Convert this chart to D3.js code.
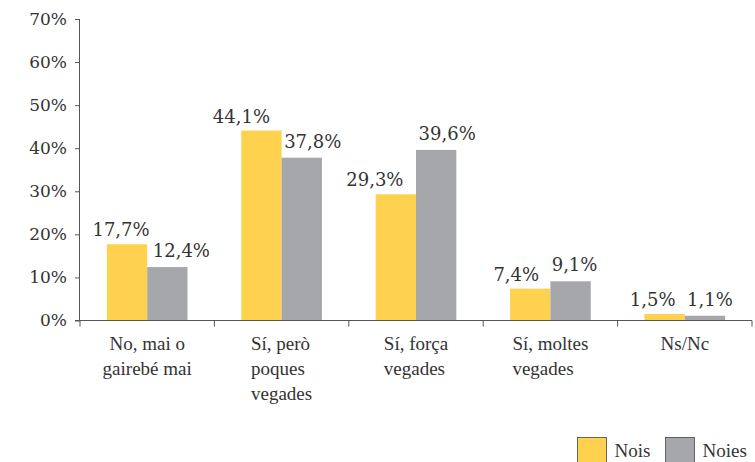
<!DOCTYPE html>
<html>
<head>
<meta charset="utf-8">
<script src="https://cdn.jsdelivr.net/npm/d3@7"></script>
<style>
  body { margin: 0; background: #fff; }
  svg { display: block; }
</style>
</head>
<body>
<svg id="chart" width="755" height="462"></svg>
<script>
const categories = [
  ["No, mai o", "gairebé mai"],
  ["Sí, però", "poques", "vegades"],
  ["Sí, força", "vegades"],
  ["Sí, moltes", "vegades"],
  ["Ns/Nc"],
];
const seriesNames = ["Nois", "Noies"];
const nois = [17.7, 44.1, 29.3, 7.4, 1.5];
const noies = [12.4, 37.8, 39.6, 9.1, 1.1];
const yTicks = [0, 10, 20, 30, 40, 50, 60, 70];

// hand placed label nudges, as in the original
const labelNudge = [
  [-6, 14],
  [-20, 11],
  [-21, 11],
  [-14, 4],
  [-12, 5],
];

const COLORS = ["#FED14F", "#A6A7AB"];
const TEXT = "#333";
const AXIS = "#555";
const NUM_FONT = "'DejaVu Serif', 'Liberation Serif', serif";
const LBL_FONT = "'Liberation Serif', 'DejaVu Serif', serif";

const svg = d3.select("#chart");
const plotLeft = 80, plotRight = 752, plotTop = 19, plotBottom = 320.5;

const x0 = d3.scaleBand()
  .domain(d3.range(categories.length))
  .range([plotLeft, plotRight])
  .paddingInner(0.4)
  .paddingOuter(0.2);
const x1 = d3.scaleBand().domain([0, 1]).range([0, x0.bandwidth()]);
const y = d3.scaleLinear().domain([0, 70]).range([plotBottom, plotTop]);

const fmt = (v) => v.toFixed(1).replace(".", ",") + "%";

// y axis
const yAxis = svg.append("g")
  .attr("transform", `translate(${plotLeft},0)`)
  .call(d3.axisLeft(y).tickValues(yTicks).tickSize(5).tickPadding(8).tickFormat((d) => d + "%"));
yAxis.select(".domain").attr("stroke", AXIS).attr("d", `M-0.5,${plotBottom}V${plotTop}`);
yAxis.selectAll(".tick line").attr("stroke", AXIS);
yAxis.selectAll(".tick text")
  .attr("fill", TEXT)
  .style("font-family", NUM_FONT)
  .style("font-size", "17px");

// bars
const groups = svg.append("g")
  .selectAll("g")
  .data(categories.map((c, i) => [nois[i], noies[i]]))
  .join("g")
  .attr("transform", (d, i) => `translate(${x0(i)},0)`);

groups.selectAll("rect")
  .data((d) => d)
  .join("rect")
  .attr("x", (d, j) => x1(j))
  .attr("y", (d) => y(d))
  .attr("width", x1.bandwidth())
  .attr("height", (d) => y(0) - y(d))
  .attr("fill", (d, j) => COLORS[j]);

groups.selectAll("text")
  .data((d, i) => d.map((v, j) => ({ v, j, i })))
  .join("text")
  .attr("x", (d) => x1(d.j) + x1.bandwidth() / 2 + labelNudge[d.i][d.j])
  .attr("y", (d) => y(d.v) - (d.j === 0 ? 8 : 10))
  .attr("text-anchor", "middle")
  .attr("fill", TEXT)
  .style("font-family", NUM_FONT)
  .style("font-size", "18px")
  .text((d) => fmt(d.v));

// x axis with ticks at band boundaries
const xAxis = svg.append("g");
xAxis.append("line")
  .attr("x1", plotLeft - 5).attr("x2", plotRight)
  .attr("y1", plotBottom).attr("y2", plotBottom)
  .attr("stroke", AXIS);
const step = x0.step();
const bounds = d3.range(categories.length + 1).map((i) => plotLeft + i * step);
xAxis.selectAll("line.tick")
  .data(bounds)
  .join("line")
  .attr("class", "tick")
  .attr("x1", (d) => d).attr("x2", (d) => d)
  .attr("y1", plotBottom).attr("y2", plotBottom + 6)
  .attr("stroke", AXIS);

// category labels: centred blocks, lines left aligned (first category centred)
xAxis.selectAll("text")
  .data(categories)
  .join("text")
  .attr("fill", TEXT)
  .style("font-family", LBL_FONT)
  .style("font-size", "19px")
  .each(function (lines, i) {
    const t = d3.select(this);
    const cx = x0(i) + x0.bandwidth() / 2;
    const spans = lines.map((ln, k) =>
      t.append("tspan").attr("y", plotBottom + 29 + k * 25).text(ln));
    const widths = spans.map((s) => s.node().getComputedTextLength());
    const wMax = d3.max(widths);
    const centred = i === 0 || lines.length === 1;
    spans.forEach((s, k) => {
      s.attr("x", centred ? cx - widths[k] / 2 : cx - wMax / 2);
    });
  });

// legend
const legend = svg.append("g");
const legX = [577.5, 665.5];
seriesNames.forEach((name, j) => {
  legend.append("rect")
    .attr("x", legX[j]).attr("y", 437.5)
    .attr("width", 29).attr("height", 28)
    .attr("fill", COLORS[j])
    .attr("stroke", "#444")
    .attr("stroke-width", 0.8);
  legend.append("text")
    .attr("x", legX[j] + 37).attr("y", 457)
    .attr("fill", TEXT)
    .style("font-family", LBL_FONT)
    .style("font-size", "19px")
    .text(name);
});
</script>
</body>
</html>
